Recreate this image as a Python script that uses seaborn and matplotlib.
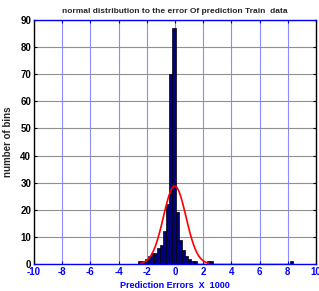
import numpy as np
import pandas as pd
import matplotlib
matplotlib.use("Agg")
import matplotlib.pyplot as plt
import seaborn as sns

# histogram of prediction errors (x 1000), 50 bins
bin_start = -2.6
bin_width = 0.22
counts = [1, 1, 2, 3, 4, 4, 6, 7, 12, 22, 70, 87,
          19, 9, 5, 3, 2, 1, 1, 0, 0, 0, 1, 1, 0,
          0, 0, 0, 0, 0, 0, 0, 0, 0, 0, 0, 0, 0,
          0, 0, 0, 0, 0, 0, 0, 0, 0, 0, 0, 1]

# fitted normal curve parameters
fit_mean = -0.02
fit_sigma = 0.8

x_ticks = [-10, -8, -6, -4, -2, 0, 2, 4, 6, 8, 10]
y_ticks = [0, 10, 20, 30, 40, 50, 60, 70, 80, 90]

title = "normal distribution to the error Of prediction Train  data"
x_label = "Prediction Errors  X  1000"
y_label = "number of bins"

edges = bin_start + bin_width * np.arange(len(counts) + 1)
centers = (edges[:-1] + edges[1:]) / 2
df = pd.DataFrame({"err": centers, "n": counts})

# histfit style curve: mean +- 3 sigma
xs = fit_mean + fit_sigma * np.arange(-3, 3.001, 0.1)
ys = sum(counts) * bin_width * np.exp(-0.5 * ((xs - fit_mean) / fit_sigma) ** 2) / (fit_sigma * np.sqrt(2 * np.pi))
curve = pd.DataFrame({"x": xs, "y": ys})

sns.set_style("white")
plt.rcParams["font.family"] = ["Liberation Sans", "DejaVu Sans"]
plt.rcParams["axes.unicode_minus"] = False

fig = plt.figure(figsize=(3.19, 2.91), dpi=100)
ax = fig.add_axes([34 / 319, 27 / 291, 282 / 319, 244 / 291])

for t in x_ticks:
    ax.axvline(t, color="#8c8cff", lw=0.8, zorder=0)
for t in y_ticks:
    ax.axhline(t, color="#909090", lw=0.8, zorder=0)

sns.histplot(data=df, x="err", weights="n", bins=list(edges), ax=ax,
             color="#000080", edgecolor="black", linewidth=0.5, alpha=1, zorder=2)
ax.plot([edges[0], edges[-1]], [0, 0], color="black", lw=1, zorder=3)
sns.lineplot(data=curve, x="x", y="y", ax=ax, color="red", lw=1.2, zorder=4)

ax.set_xlim(-10, 10)
ax.set_ylim(0, 90)
ax.set_xticks(x_ticks)
ax.set_yticks(y_ticks)
ax.tick_params(axis="x", direction="in", length=2, colors="blue", labelsize=7,
               top=True, bottom=True, pad=2)
ax.tick_params(axis="y", direction="in", length=2, colors="black", labelsize=7,
               left=True, right=True, pad=2)
for lab in ax.get_xticklabels() + ax.get_yticklabels():
    lab.set_fontweight("bold")

for side in ["top", "bottom"]:
    ax.spines[side].set_color("blue")
    ax.spines[side].set_linewidth(1)
for side in ["left", "right"]:
    ax.spines[side].set_color("black")
    ax.spines[side].set_linewidth(1)

ax.set_title(title, fontsize=6, fontweight="bold", pad=5)
ax.set_xlabel(x_label, fontsize=6.5, fontweight="bold", color="blue", labelpad=3)
ax.set_ylabel(y_label, fontsize=7, fontweight="bold", labelpad=5)

fig.savefig("out.png", dpi=100, facecolor="white")
